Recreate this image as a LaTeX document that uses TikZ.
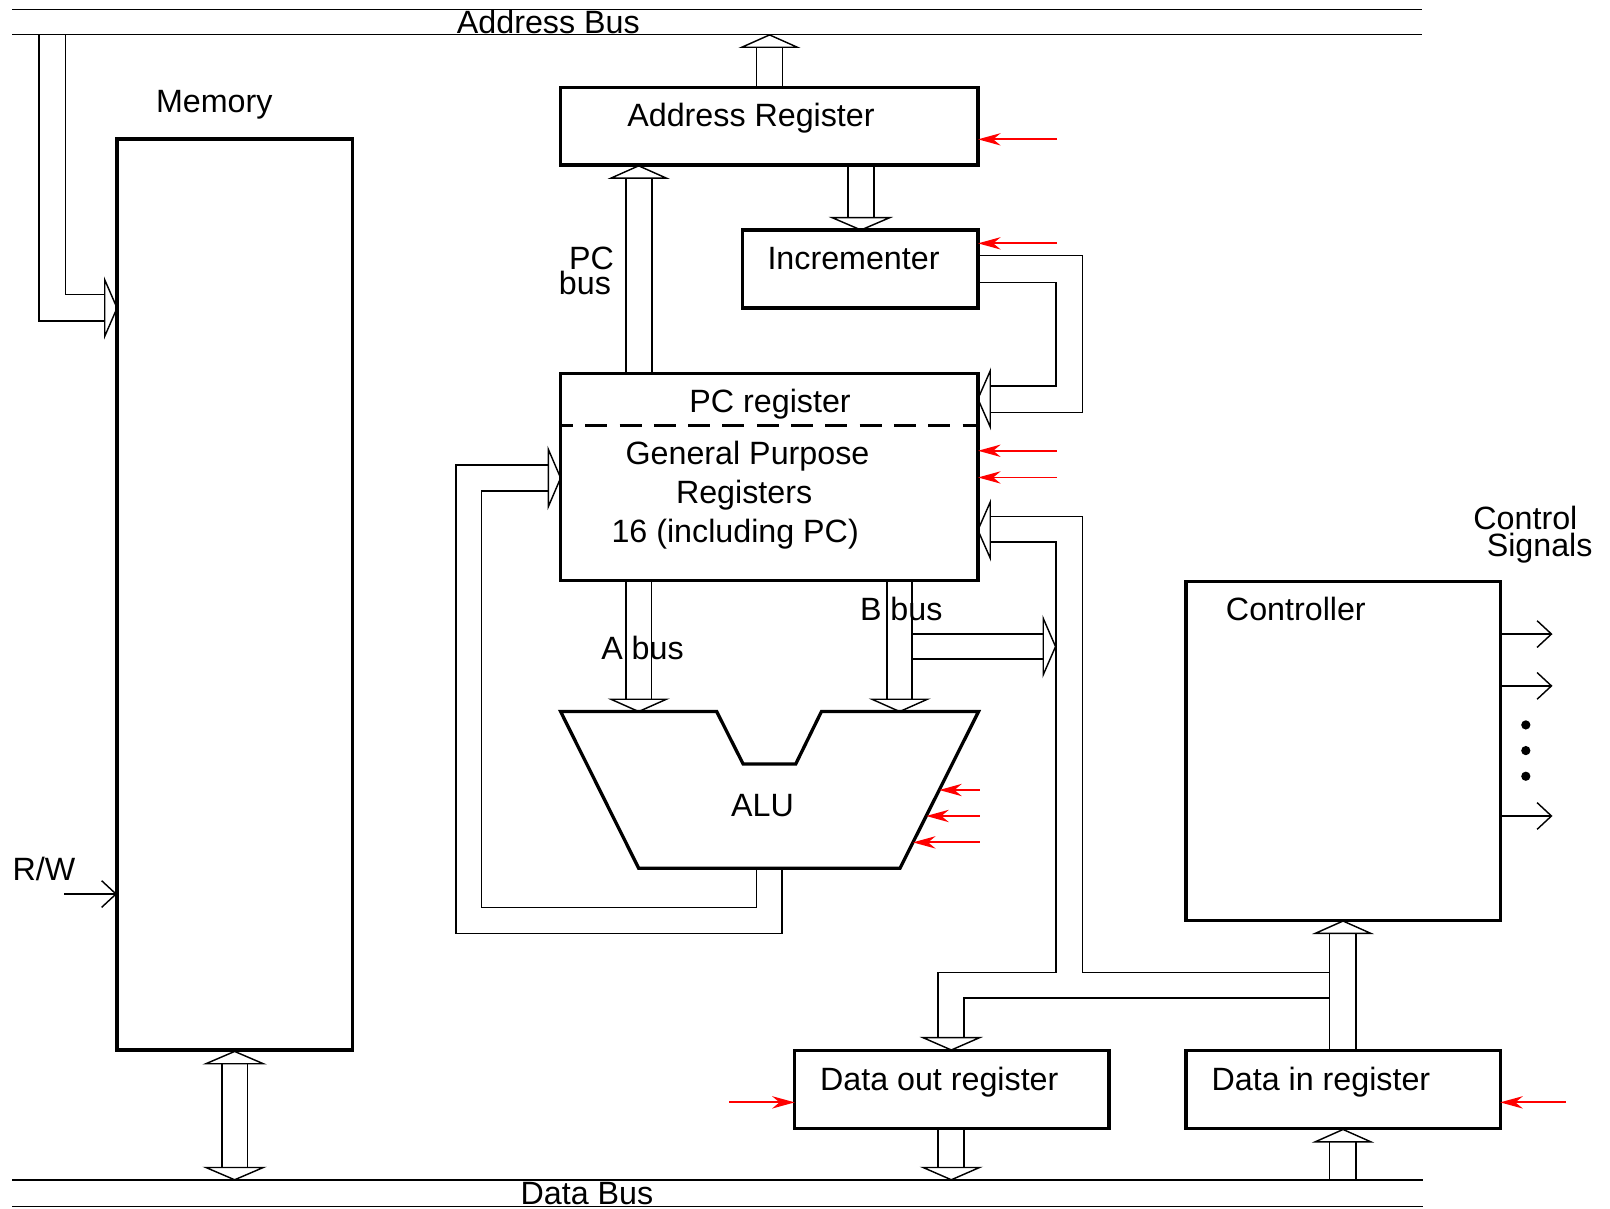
\documentclass[tikz,border=0pt]{standalone}
\usepackage{fontspec}
\setmainfont{Liberation Sans}
\usetikzlibrary{arrows.meta}
% hollow bus arrow heads: apex (#1,#2), half width #3
\newcommand\hdup[3]{\draw[busln,fill=white] (#1-#3,#2+12) -- (#1,#2) -- (#1+#3,#2+12) -- cycle;}
\newcommand\hddn[3]{\draw[busln,fill=white] (#1-#3,#2-12) -- (#1,#2) -- (#1+#3,#2-12) -- cycle;}
\newcommand\hdlt[3]{\draw[busln,fill=white] (#1+12,#2-#3) -- (#1,#2) -- (#1+12,#2+#3) -- cycle;}
\newcommand\hdrt[3]{\draw[busln,fill=white] (#1-12,#2-#3) -- (#1,#2) -- (#1-12,#2+#3) -- cycle;}
\begin{document}
\begin{tikzpicture}[x=0.5pt,y=-0.5pt,
  busln/.style={line width=0.7pt},
  boxst/.style={line width=1.6pt},
  lbl/.style={font=\fontsize{15.7pt}{18pt}\selectfont, inner sep=0pt, outer sep=0pt},
  redarr/.style={red, line width=0.9pt, -{Stealth[length=11pt,width=6pt]}},
  sigarr/.style={line width=0.7pt, -{Straight Barb[length=7pt,width=13pt]}},
  line join=miter]
\useasboundingbox (0,0) rectangle (1568,1177);

% system buses
\draw[busln] (12,9) -- (1385,9) (12,33.5) -- (1385,33.5);
\draw[busln] (12,1149) -- (1385.5,1149) (12,1175) -- (1385.5,1175);

% address register -> address bus
\draw[busln] (737,85) -- (737,46) (762,85) -- (762,46);
\hdup{749.5}{34}{27}

% PC bus
\draw[busln] (609.5,364) -- (609.5,173.5) (634.8,364) -- (634.8,173.5);
\hdup{622}{161.5}{27}

% address register -> incrementer
\draw[busln] (826,160.7) -- (826,212) (851,160.7) -- (851,212);
\hddn{838.5}{224}{28}

% incrementer -> PC register
\draw[busln] (952.5,249) -- (1054.5,249) -- (1054.5,401.5) -- (964.4,401.5);
\draw[busln] (952.5,275) -- (1028.5,275) -- (1028.5,376) -- (964.4,376);
\hdlt{952.4}{388.5}{27.3}

% ALU -> registers
\draw[busln] (761.7,845.6) -- (761.7,909) -- (444,909) -- (444,453) -- (534,453);
\draw[busln] (737,845.6) -- (737,884) -- (469,884) -- (469,478) -- (534,478);
\hdrt{546}{465.5}{28}

% A bus
\draw[busln] (609.7,565.5) -- (609.7,681) (634.4,565.5) -- (634.4,681);
\hddn{622}{693}{27}
% B bus
\draw[busln] (864,565.5) -- (864,681) (888.4,565.5) -- (888.4,681);
\hddn{876.2}{693}{27}
% B bus branch
\draw[busln] (888.4,617.5) -- (1016,617.5) (888.4,642) -- (1016,642);
\hdrt{1028}{629.7}{27.5}

% data in register -> controller, registers, data out
\draw[busln] (1295,1023) -- (1295,909) (1320.5,1023) -- (1320.5,909);
\hdup{1308}{897}{27}
\draw[busln] (964.4,503) -- (1054.4,503) -- (1054.4,947) -- (1295,947);
\draw[busln] (964.4,528) -- (1028.5,528) -- (1028.5,947) -- (913.5,947) -- (913.5,1010.6);
\draw[busln] (1295,972) -- (939,972) -- (939,1010.6);
\hdlt{952.4}{516.3}{27.3}
\hddn{926.5}{1022.6}{27.5}

% data out register -> data bus
\draw[busln] (913.5,1099) -- (913.5,1137) (939,1099) -- (939,1137);
\hddn{926.5}{1149}{27.5}
% data bus -> data in register
\draw[busln] (1295,1149) -- (1295,1112) (1320.5,1149) -- (1320.5,1112);
\hdup{1308}{1100}{27}

% memory <-> data bus
\draw[busln] (216,1036) -- (216,1137) (240.8,1036) -- (240.8,1137);
\hdup{228.5}{1024}{28}
\hddn{228.5}{1149}{28}

% address bus -> memory
\draw[busln] (38,33.5) -- (38,312.6) -- (102,312.6);
\draw[busln] (64,33.5) -- (64,287) -- (102,287);
\hdrt{114}{300}{27.5}

% boxes
\draw[boxst] (114,135.5) rectangle (343.5,1022.6);
\draw[boxst] (545.8,85) rectangle (952.5,160.7);
\draw[boxst] (723,224) rectangle (952.5,300);
\draw[boxst] (546,364) rectangle (952.5,565.5);
\draw[boxst,dash pattern=on 10.7pt off 6pt,dash phase=4.7pt] (546,414.6) -- (952.5,414.6);
\draw[boxst] (546,693) -- (698,693) -- (723.7,744) -- (775,744) -- (800,693) -- (953,693) -- (876.5,845.6) -- (622,845.6) -- cycle;
\draw[boxst] (1155,566.5) rectangle (1461,896.7);
\draw[boxst] (774,1023) rectangle (1080,1099);
\draw[boxst] (1155,1023) rectangle (1461,1099);

% red control inputs
\draw[redarr] (1029.5,135.7) -- (952.5,135.7);
\draw[redarr] (1029.5,237) -- (952.5,237);
\draw[redarr] (1029,439) -- (952.5,439);
\draw[redarr] (1029,465) -- (952.5,465);
\draw[redarr] (954,769.4) -- (914.7,769.4);
\draw[redarr] (954,794.7) -- (902,794.7);
\draw[redarr] (954,820.4) -- (889.1,820.4);
\draw[redarr] (710,1073.6) -- (774,1073.6);
\draw[redarr] (1525,1073.6) -- (1461,1073.6);

% controller outputs
\draw[sigarr] (1461,617.5) -- (1512,617.5);
\draw[sigarr] (1461,668) -- (1512,668);
\draw[sigarr] (1461,794.7) -- (1512,794.7);
\fill (1486,706) circle (2.25pt);
\fill (1486,731) circle (2.25pt);
\fill (1486,756) circle (2.25pt);

% R/W
\draw[sigarr] (62.6,870.7) -- (114,870.7);

% labels
\node[lbl,anchor=base west] (tAB) at (445,33) {Address Bus};
\node[lbl,anchor=base west] (tDB) at (507,1173.5) {Data Bus};
\node[lbl,anchor=base west] (tMem) at (152,110) {Memory};
\node[lbl,anchor=base west] (tAR) at (611,123) {Address Register};
\node[lbl,anchor=base west] (tInc) at (747.5,262) {Incrementer};
\node[lbl,anchor=base east] (tPC) at (598,262) {PC};
\node[lbl,anchor=base east] (tbus) at (595,287) {bus};
\node[lbl,anchor=base] (tPCr) at (750,402) {PC register};
\node[lbl,anchor=base] (tGP1) at (728,452) {General Purpose};
\node[lbl,anchor=base] (tGP2) at (724.7,490) {Registers};
\node[lbl,anchor=base] (tGP3) at (716,528.5) {16 (including PC)};
\node[lbl,anchor=base west] (tB) at (837.6,604) {B bus};
\node[lbl,anchor=base west] (tA) at (585.6,642) {A bus};
\node[lbl,anchor=base west] (tALU) at (712,795) {ALU};
\node[lbl,anchor=base west] (tCtl) at (1194,604.5) {Controller};
\node[lbl,anchor=base west] (tCS1) at (1435,516) {Control};
\node[lbl,anchor=base west] (tCS2) at (1448,541.5) {Signals};
\node[lbl,anchor=base west] (tDO) at (798.7,1061.6) {Data out register};
\node[lbl,anchor=base west] (tDI) at (1180,1061.6) {Data in register};
\node[lbl,anchor=base west] (tRW) at (12.3,858) {R/W};
\end{tikzpicture}
\end{document}
